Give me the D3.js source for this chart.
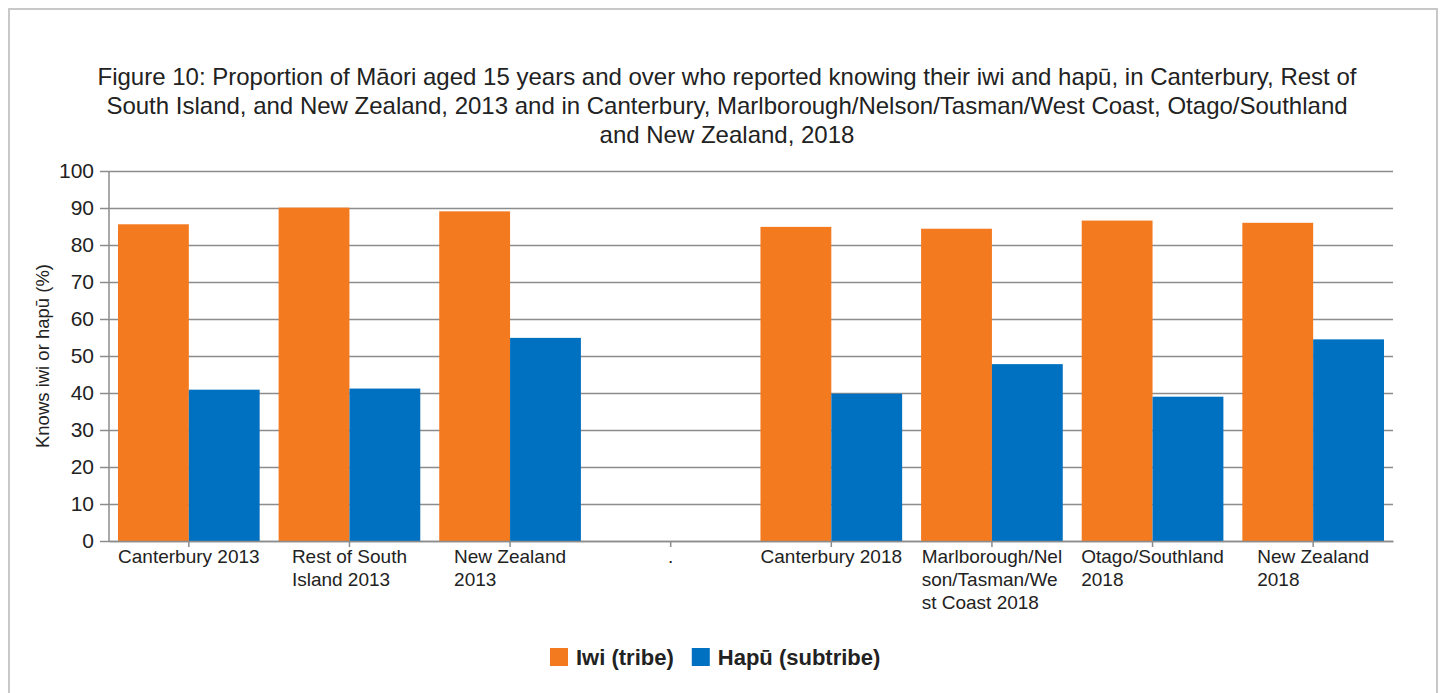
<!DOCTYPE html>
<html>
<head>
<meta charset="utf-8">
<script src="https://cdnjs.cloudflare.com/ajax/libs/d3/7.8.5/d3.min.js"></script>
<style>
  body { margin: 0; background: #fff; }
  text { font-family: "Liberation Sans", Arial, sans-serif; fill: #222; }
</style>
</head>
<body>
<script>
// categories (the "." one is an empty spacer column in the original)
var categories = ["c13", "rsi13", "nz13", "gap", "c18", "mnt18", "os18", "nz18"];
var tickLabels = [
  ["Canterbury 2013"],
  ["Rest of South", "Island 2013"],
  ["New Zealand", "2013"],
  ["."],
  ["Canterbury 2018"],
  ["Marlborough/Nel", "son/Tasman/We", "st Coast 2018"],
  ["Otago/Southland", "2018"],
  ["New Zealand", "2018"]
];
var iwi  = [85.6, 90.1, 89.1, null, 84.9, 84.4, 86.6, 86.0];
var hapu = [40.9, 41.2, 54.9, null, 39.8, 47.8, 39.0, 54.5];
var seriesNames = ["Iwi (tribe)", "Hapū (subtribe)"];
var colors = ["#f47a20", "#0070c0"];
var yTicks = [0, 10, 20, 30, 40, 50, 60, 70, 80, 90, 100];
var titleLines = [
  "Figure 10: Proportion of Māori aged 15 years and over who reported knowing their iwi and hapū, in Canterbury, Rest of",
  "South Island, and New Zealand, 2013 and in Canterbury, Marlborough/Nelson/Tasman/West Coast, Otago/Southland",
  "and New Zealand, 2018"
];

var w = 1442, h = 693;
var mLeft = 109, mRight = 1393, mTop = 171, mBottom = 541;
var gridColor = "#8c8c8c";

var svg = d3.select("body").append("svg")
  .attr("width", w)
  .attr("height", h);

// outer frame
svg.append("rect")
  .attr("x", 9).attr("y", 9)
  .attr("width", 1428).attr("height", 700)
  .attr("fill", "none")
  .attr("stroke", "#c8c8c8")
  .attr("stroke-width", 2);

// title
svg.append("g").selectAll("text")
  .data(titleLines)
  .enter().append("text")
  .attr("x", 727)
  .attr("y", function(d, i) { return 85 + i * 29; })
  .attr("text-anchor", "middle")
  .attr("font-size", 24)
  .text(function(d) { return d; });

var x = d3.scaleBand()
  .domain(categories)
  .range([mLeft, mRight])
  .paddingInner(0.118)
  .paddingOuter(0.056);

var x1 = d3.scaleBand()
  .domain([0, 1])
  .range([0, x.bandwidth()]);

var y = d3.scaleLinear()
  .domain([0, 100])
  .range([mBottom, mTop]);

// grid lines with ticks sticking out to the left
var yAxis = svg.append("g")
  .attr("transform", "translate(" + mLeft + ",0)")
  .call(d3.axisLeft(y).tickValues(yTicks).tickSize(9).tickPadding(6));
yAxis.select(".domain").remove();
yAxis.selectAll(".tick line")
  .attr("stroke", gridColor).attr("stroke-width", 1.5);
yAxis.selectAll(".tick").append("line")
  .attr("x1", 0).attr("x2", mRight - mLeft)
  .attr("stroke", gridColor).attr("stroke-width", 1.5);
yAxis.selectAll(".tick text")
  .attr("font-size", 21)
  .attr("font-family", "Liberation Sans, Arial, sans-serif")
  .attr("fill", "#222");

// y axis line
svg.append("line")
  .attr("x1", mLeft).attr("x2", mLeft)
  .attr("y1", mTop).attr("y2", mBottom)
  .attr("stroke", gridColor).attr("stroke-width", 1.5);

// bars
var rows = categories.map(function(c, i) { return { cat: c, vals: [iwi[i], hapu[i]] }; });
var groups = svg.append("g").selectAll("g")
  .data(rows)
  .enter().append("g")
  .attr("transform", function(d) { return "translate(" + x(d.cat) + ",0)"; });

groups.selectAll("rect")
  .data(function(d) { return d.vals.map(function(v, j) { return { v: v, j: j }; }).filter(function(e) { return e.v != null; }); })
  .enter().append("rect")
  .attr("x", function(d) { return x1(d.j); })
  .attr("y", function(d) { return y(d.v); })
  .attr("width", x1.bandwidth())
  .attr("height", function(d) { return y(0) - y(d.v); })
  .attr("fill", function(d) { return colors[d.j]; });

// x axis baseline + ticks
var xAxis = svg.append("g")
  .attr("transform", "translate(0," + mBottom + ")")
  .call(d3.axisBottom(x).tickSize(6).tickSizeOuter(0).tickFormat(""));
xAxis.select(".domain").attr("stroke", gridColor).attr("stroke-width", 1.5);
xAxis.selectAll(".tick line").attr("stroke", gridColor).attr("stroke-width", 1.5);

// x labels: block centred on band, lines left-aligned inside it
var labels = svg.append("g").selectAll("text")
  .data(categories)
  .enter().append("text")
  .attr("font-size", 19);
labels.each(function(c, i) {
  var t = d3.select(this);
  tickLabels[i].forEach(function(line, k) {
    t.append("tspan").attr("x", 0).attr("y", 563 + k * 23).text(line);
  });
  var bw = this.getBBox().width;
  var x0 = x(c) + x.bandwidth() / 2 - bw / 2;
  t.selectAll("tspan").attr("x", x0);
});

// y title
svg.append("text")
  .attr("transform", "translate(49," + ((mTop + mBottom) / 2) + ") rotate(-90)")
  .attr("text-anchor", "middle")
  .attr("font-size", 18.5)
  .text("Knows iwi or hapū (%)");

// legend
var legend = svg.append("g").attr("transform", "translate(550,648)");
var lx = 0;
seriesNames.forEach(function(name, i) {
  legend.append("rect")
    .attr("x", lx).attr("y", 0)
    .attr("width", 18).attr("height", 18)
    .attr("fill", colors[i]);
  var t = legend.append("text")
    .attr("x", lx + 26).attr("y", 17)
    .attr("font-size", 22)
    .attr("font-weight", "bold")
    .text(name);
  lx += 26 + t.node().getComputedTextLength() + 18;
});
</script>
</body>
</html>
